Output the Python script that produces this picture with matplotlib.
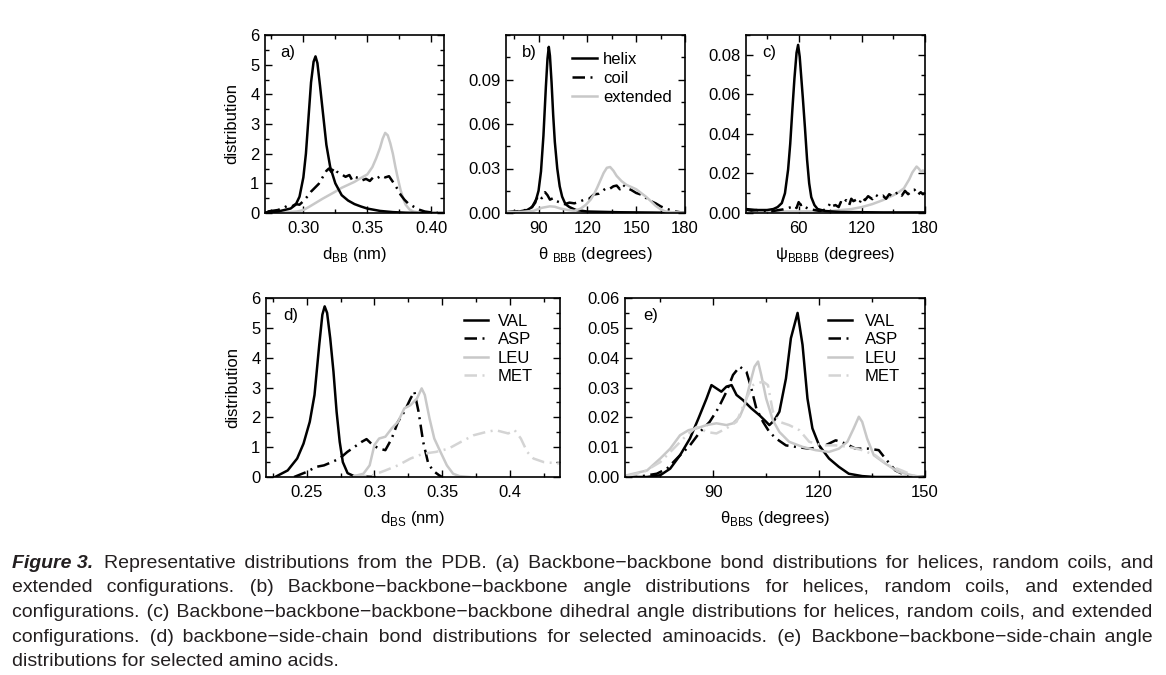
import matplotlib
matplotlib.use('Agg')
import matplotlib.pyplot as plt
from matplotlib.ticker import MultipleLocator, FormatStrFormatter, FuncFormatter, FixedLocator
from matplotlib.transforms import IdentityTransform

plt.rcParams['font.family'] = ['Liberation Sans', 'DejaVu Sans']
plt.rcParams['font.size'] = 12

# ---------------- data ----------------
# panel a: d_BB (nm)
a_helix_x = [0.270, 0.280, 0.285, 0.290, 0.294, 0.297, 0.300, 0.302, 0.304, 0.306, 0.308, 0.3095, 0.311,
             0.313, 0.315, 0.318, 0.321, 0.325, 0.330, 0.335, 0.340, 0.345, 0.350, 0.360, 0.370, 0.380, 0.390, 0.410]
a_helix_y = [0.02, 0.05, 0.10, 0.15, 0.28, 0.55, 1.20, 2.00, 3.20, 4.40, 5.10, 5.28, 5.05,
             4.30, 3.50, 2.30, 1.55, 1.00, 0.60, 0.42, 0.30, 0.22, 0.15, 0.07, 0.03, 0.01, 0.00, 0.00]
a_coil_x = [0.272, 0.280, 0.285, 0.288, 0.291, 0.294, 0.297, 0.300, 0.303, 0.306, 0.309, 0.312, 0.315, 0.318,
            0.320, 0.322, 0.324, 0.326, 0.328, 0.330, 0.333, 0.336, 0.338, 0.340, 0.343, 0.346, 0.349, 0.352,
            0.355, 0.358, 0.361, 0.364, 0.367, 0.370, 0.373, 0.376, 0.379, 0.382, 0.386, 0.390, 0.395, 0.400, 0.405]
a_coil_y = [0.05, 0.10, 0.18, 0.26, 0.22, 0.30, 0.28, 0.40, 0.55, 0.72, 0.85, 0.98, 1.20, 1.42,
            1.50, 1.38, 1.52, 1.40, 1.35, 1.30, 1.22, 1.28, 1.12, 1.22, 1.18, 1.10, 1.15, 1.08,
            1.22, 1.18, 1.26, 1.20, 1.24, 1.05, 0.85, 0.62, 0.45, 0.32, 0.22, 0.12, 0.05, 0.02, 0.01]
a_ext_x = [0.270, 0.285, 0.295, 0.300, 0.305, 0.310, 0.315, 0.320, 0.325, 0.330, 0.335, 0.340, 0.345, 0.350,
           0.354, 0.357, 0.360, 0.362, 0.364, 0.366, 0.368, 0.370, 0.372, 0.374, 0.376, 0.378, 0.380, 0.383,
           0.386, 0.390, 0.400, 0.410]
a_ext_y = [0.00, 0.02, 0.05, 0.10, 0.22, 0.35, 0.48, 0.60, 0.72, 0.85, 0.95, 1.05, 1.18, 1.30,
           1.55, 1.85, 2.20, 2.50, 2.70, 2.62, 2.35, 2.00, 1.55, 1.15, 0.78, 0.50, 0.28, 0.12,
           0.05, 0.02, 0.00, 0.00]

# panel b: theta_BBB (degrees)
b_helix_x = [70, 78, 83, 86, 88, 90, 91.5, 93, 94.5, 95.5, 96.3, 97, 98, 99, 100, 101.5, 103, 104.5,
             106.5, 109, 113, 120, 140, 160, 180]
b_helix_y = [0.0005, 0.001, 0.002, 0.004, 0.007, 0.015, 0.028, 0.052, 0.085, 0.104, 0.112, 0.106, 0.088,
             0.066, 0.048, 0.030, 0.018, 0.011, 0.006, 0.004, 0.002, 0.001, 0.0005, 0.0003, 0.0]
b_coil_x = [70, 76, 82, 86, 88, 90, 92, 94, 95.5, 97, 99, 101, 103.5, 106, 109, 112, 115, 118, 121, 124,
            127, 130, 132, 134, 136, 138, 140, 142, 144, 147, 150, 154, 158, 162, 165, 168, 171, 174, 177, 180]
b_coil_y = [0.0005, 0.001, 0.002, 0.004, 0.008, 0.012, 0.010, 0.014, 0.012, 0.009, 0.010, 0.008, 0.007,
            0.006, 0.007, 0.0065, 0.0075, 0.009, 0.0095, 0.0125, 0.013, 0.0155, 0.017, 0.0165, 0.018,
            0.0185, 0.016, 0.019, 0.017, 0.0155, 0.0135, 0.012, 0.0085, 0.0065, 0.0045, 0.003, 0.002,
            0.001, 0.0005, 0.0003]
b_ext_x = [70, 80, 87, 92, 97, 100, 103.5, 108, 112, 116, 119, 122, 124, 126, 128, 130, 132, 134, 136,
           138, 141, 144, 147, 150, 153, 156, 159, 162, 165, 168, 172, 180]
b_ext_y = [0.0005, 0.0008, 0.0015, 0.0035, 0.0045, 0.0042, 0.003, 0.002, 0.0015, 0.003, 0.0055, 0.009,
           0.0125, 0.017, 0.022, 0.027, 0.0305, 0.031, 0.0285, 0.025, 0.0215, 0.019, 0.0175, 0.016, 0.0135,
           0.011, 0.008, 0.0048, 0.0025, 0.001, 0.0005, 0.0003]

# panel c: psi_BBBB (degrees)
c_helix_x = [10, 20, 30, 36, 40, 44, 47, 50, 52, 54, 56, 58, 59.5, 61, 62, 64, 66, 68, 70, 72, 75, 78, 85,
             100, 140, 180]
c_helix_y = [0.002, 0.0015, 0.0015, 0.002, 0.003, 0.005, 0.010, 0.022, 0.035, 0.052, 0.068, 0.081, 0.085,
             0.079, 0.072, 0.058, 0.043, 0.027, 0.015, 0.008, 0.004, 0.002, 0.001, 0.0005, 0.0003, 0.0003]
c_coil_x = [10, 15, 20, 25, 30, 35, 40, 45, 50, 53, 56, 58, 60, 62, 64, 66, 70, 75, 80, 84, 88, 90, 92, 95,
            98, 100, 102, 105, 108, 110, 112, 115, 118, 120, 123, 126, 130, 133, 136, 140, 143, 146, 149,
            152, 155, 158, 161, 164, 167, 170, 173, 176, 178, 180]
c_coil_y = [0.0018, 0.0012, 0.0015, 0.001, 0.0012, 0.0009, 0.0014, 0.0018, 0.0025, 0.003, 0.0035, 0.0025,
            0.0055, 0.004, 0.0045, 0.003, 0.002, 0.0015, 0.001, 0.0015, 0.003, 0.005, 0.0035, 0.004, 0.003,
            0.0055, 0.0045, 0.0065, 0.004, 0.0072, 0.006, 0.0068, 0.0052, 0.0078, 0.0065, 0.0085, 0.007,
            0.0092, 0.0082, 0.0088, 0.0072, 0.0095, 0.0085, 0.0098, 0.0105, 0.0088, 0.0112, 0.0095, 0.0108,
            0.0118, 0.0092, 0.0105, 0.0095, 0.0102]
c_ext_x = [10, 40, 70, 80, 90, 100, 110, 120, 130, 140, 145, 150, 155, 160, 165, 168, 170, 172, 174, 176,
           178, 180]
c_ext_y = [0.0008, 0.0008, 0.0008, 0.0008, 0.001, 0.0015, 0.002, 0.003, 0.0045, 0.0065, 0.0078, 0.009,
           0.0105, 0.0125, 0.017, 0.0205, 0.022, 0.0235, 0.0225, 0.021, 0.0215, 0.021]

# panel d: d_BS (nm)
d_val_x = [0.2267, 0.236, 0.243, 0.2477, 0.2523, 0.2558, 0.2593, 0.2616, 0.2633, 0.2651, 0.2674, 0.2698,
           0.2721, 0.2744, 0.2767, 0.2802, 0.2849, 0.300]
d_val_y = [0.0, 0.22, 0.62, 1.12, 1.85, 2.75, 4.43, 5.44, 5.72, 5.50, 4.65, 3.53, 2.19, 1.18, 0.50, 0.13,
           0.03, 0.0]
d_asp_x = [0.2407, 0.250, 0.257, 0.2628, 0.2686, 0.2744, 0.280, 0.285, 0.2907, 0.2942, 0.2988, 0.3035,
           0.3081, 0.3128, 0.3174, 0.3221, 0.3267, 0.3295, 0.3326, 0.336, 0.3395, 0.343, 0.3477, 0.350]
d_asp_y = [0.0, 0.17, 0.34, 0.39, 0.50, 0.62, 0.84, 1.00, 1.18, 1.27, 1.07, 0.95, 0.90, 1.29, 1.85, 2.19,
           2.63, 2.86, 2.19, 1.18, 0.50, 0.22, 0.06, 0.0]
d_leu_x = [0.285, 0.2919, 0.2965, 0.300, 0.3035, 0.3081, 0.3128, 0.3174, 0.3221, 0.3267, 0.3314, 0.3349,
           0.3372, 0.3407, 0.3442, 0.3488, 0.3535, 0.3581, 0.3628, 0.370]
d_leu_y = [0.03, 0.11, 0.39, 1.07, 1.29, 1.35, 1.63, 1.85, 2.30, 2.41, 2.63, 2.97, 2.75, 1.96, 1.29, 0.84,
           0.39, 0.11, 0.03, 0.0]
d_met_x = [0.285, 0.2988, 0.3081, 0.3174, 0.3267, 0.336, 0.3453, 0.3547, 0.364, 0.3733, 0.3826, 0.3895,
           0.3988, 0.4035, 0.4081, 0.4128, 0.4174, 0.425, 0.437]
d_met_y = [0.0, 0.06, 0.22, 0.39, 0.62, 0.78, 0.84, 0.95, 1.18, 1.40, 1.51, 1.57, 1.46, 1.57, 1.29, 0.84,
           0.62, 0.50, 0.45]

# panel e: theta_BBS (degrees)
e_val_x = [65, 71.25, 75, 77.8, 80.6, 83.4, 85.8, 88.1, 89.5, 90.9, 92.3, 93.75, 95.2, 96.6, 98.4, 100.8,
           103.1, 105, 105.9, 107.3, 108.75, 110.6, 112, 113.9, 115.3, 116.7, 118.1, 120, 122.8, 125.6,
           128.4, 132.2, 135.9, 150]
e_val_y = [0.0, 0.0, 0.0006, 0.0028, 0.0073, 0.0129, 0.0196, 0.0263, 0.0308, 0.0297, 0.0286, 0.0303,
           0.0308, 0.0275, 0.0258, 0.0230, 0.0207, 0.0185, 0.0174, 0.0190, 0.0219, 0.0330, 0.0465, 0.0550,
           0.0443, 0.0263, 0.0163, 0.0106, 0.0062, 0.0034, 0.0011, 0.0003, 0.0, 0.0]
e_asp_x = [65, 68.4, 74, 76.9, 80.6, 83.4, 86.25, 89, 91.4, 93.75, 95.6, 97.5, 99.4, 100.8, 102.2, 104.1,
           105.9, 107.8, 110.6, 113.4, 117.2, 120.9, 124.7, 127.5, 130.3, 134, 136.9, 138.75, 141.6, 144.4,
           148.1, 150]
e_asp_y = [0.0, 0.0, 0.0011, 0.0028, 0.0073, 0.0106, 0.0151, 0.0185, 0.0230, 0.0286, 0.0342, 0.0370,
           0.0353, 0.0297, 0.0230, 0.0185, 0.0151, 0.0129, 0.0106, 0.0101, 0.0095, 0.0101, 0.0123, 0.0112,
           0.0095, 0.0095, 0.0090, 0.0062, 0.0022, 0.0006, 0.0, 0.0]
e_leu_x = [65.6, 71.25, 75, 77.8, 80.6, 83, 85.3, 88.1, 90.9, 93.75, 95.6, 97.5, 98.9, 100.3, 101.7, 102.7,
           103.6, 105, 106.9, 108.75, 111.5, 115.3, 119, 122.8, 125.6, 128, 129.8, 131.25, 132.2, 133.6,
           135.5, 138.75, 142.5, 146.25, 149]
e_leu_y = [0.0006, 0.0022, 0.0062, 0.0095, 0.0140, 0.0157, 0.0163, 0.0174, 0.0180, 0.0174, 0.0180, 0.0202,
           0.0241, 0.0308, 0.0370, 0.0387, 0.0342, 0.0263, 0.0190, 0.0151, 0.0118, 0.0101, 0.0090, 0.0084,
           0.0095, 0.0118, 0.0163, 0.0202, 0.0185, 0.0129, 0.0073, 0.0045, 0.0017, 0.0006, 0.0]
e_met_x = [65.6, 70.3, 75, 78.75, 82.5, 85.3, 88.1, 90.9, 93.75, 96.6, 99.4, 101.25, 104.1, 105.5, 106.9,
           108.75, 111.5, 114.4, 117.2, 120.9, 124.7, 128.4, 132.2, 135.9, 139.7, 143.4, 147.2]
e_met_y = [0.0003, 0.0017, 0.0050, 0.0095, 0.0140, 0.0168, 0.0151, 0.0146, 0.0163, 0.0185, 0.0263, 0.0308,
           0.0320, 0.0308, 0.0219, 0.0185, 0.0174, 0.0157, 0.0118, 0.0106, 0.0106, 0.0101, 0.0090, 0.0073,
           0.0039, 0.0022, 0.0003]

caption_head = "Figure 3."
caption_lines = [
    "Representative distributions from the PDB. (a) Backbone\u2212backbone bond distributions for helices, random coils, and",
    "extended configurations. (b) Backbone\u2212backbone\u2212backbone angle distributions for helices, random coils, and extended",
    "configurations. (c) Backbone\u2212backbone\u2212backbone\u2212backbone dihedral angle distributions for helices, random coils, and extended",
    "configurations. (d) backbone\u2212side-chain bond distributions for selected aminoacids. (e) Backbone\u2212backbone\u2212side-chain angle",
    "distributions for selected amino acids.",
]

# ---------------- styles ----------------
BLACK = '#000000'
GRAY = '#c8c8c8'
GRAY2 = '#d4d4d4'
LW = 1.8
DASHDOT = (0, (5.0, 2.2, 0.8, 2.2))

W, H = 1166, 675
fig = plt.figure(figsize=(W / 100, H / 100), dpi=100)


def px_axes(x0, y0, x1, y1):
    return fig.add_axes([x0 / W, 1 - y1 / H, (x1 - x0) / W, (y1 - y0) / H])


def style(ax, xmaj, xmin, ymaj, ymin):
    ax.xaxis.set_major_locator(xmaj if not isinstance(xmaj, (int, float)) else MultipleLocator(xmaj))
    ax.xaxis.set_minor_locator(MultipleLocator(xmin))
    ax.yaxis.set_major_locator(ymaj if not isinstance(ymaj, (int, float)) else MultipleLocator(ymaj))
    ax.yaxis.set_minor_locator(MultipleLocator(ymin))
    ax.tick_params(which='both', direction='in', top=True, right=True, width=1.0, labelsize=12)
    ax.tick_params(which='major', length=5.0)
    ax.tick_params(which='minor', length=3.0)
    ax.tick_params(axis='x', which='both', pad=6)
    ax.tick_params(axis='y', which='both', pad=4)
    for s in ax.spines.values():
        s.set_linewidth(1.2)


def legend(ax, dx, dy, spacing, textpad):
    ax.legend(loc='upper right', bbox_to_anchor=(1 - dx, 1 - dy), frameon=False, fontsize=12,
              handlelength=1.45, handletextpad=textpad, labelspacing=spacing,
              borderaxespad=0.0, borderpad=0.0)


gfmt = FuncFormatter(lambda v, p: ('%g' % round(v, 4)))

# panel a
ax = px_axes(265, 35, 444, 213)
ax.plot(a_ext_x, a_ext_y, color=GRAY, lw=LW)
ax.plot(a_coil_x, a_coil_y, color=BLACK, lw=LW, ls=DASHDOT)
ax.plot(a_helix_x, a_helix_y, color=BLACK, lw=LW)
ax.set_xlim(0.27, 0.41)
ax.set_ylim(0, 6)
style(ax, 0.05, 0.025, 1, 0.5)
ax.xaxis.set_major_formatter(FormatStrFormatter('%.2f'))
ax.set_ylabel('distribution', fontsize=12, labelpad=8)
ax.set_xlabel('d$_\\mathregular{BB}$ (nm)', fontsize=12, labelpad=6)
ax.text(0.085, 0.9, 'a)', transform=ax.transAxes, fontsize=12, va='center')

# panel b
ax = px_axes(506, 35, 685, 213)
ax.plot(b_helix_x, b_helix_y, color=BLACK, lw=LW, label='helix')
ax.plot(b_coil_x, b_coil_y, color=BLACK, lw=LW, ls=DASHDOT, label='coil')
ax.plot(b_ext_x, b_ext_y, color=GRAY, lw=LW, label='extended')
ax.set_xlim(70, 180)
ax.set_ylim(0, 0.12)
style(ax, 30, 15, FixedLocator([0, 0.03, 0.06, 0.09]), 0.015)
ax.yaxis.set_major_formatter(FormatStrFormatter('%.2f'))
ax.set_xlabel('θ $_\\mathregular{BBB}$ (degrees)', fontsize=12, labelpad=6)
ax.text(0.09, 0.9, 'b)', transform=ax.transAxes, fontsize=12, va='center')
legend(ax, 0.073, 0.093, 0.25, 0.4)

# panel c
ax = px_axes(746, 35, 925, 213)
ax.plot(c_ext_x, c_ext_y, color=GRAY, lw=LW)
ax.plot(c_coil_x, c_coil_y, color=BLACK, lw=LW, ls=DASHDOT)
ax.plot(c_helix_x, c_helix_y, color=BLACK, lw=LW)
ax.set_xlim(10, 180)
ax.set_ylim(0, 0.09)
style(ax, 60, 30, 0.02, 0.01)
ax.yaxis.set_major_formatter(FormatStrFormatter('%.2f'))
ax.set_xlabel('ψ$_\\mathregular{BBBB}$ (degrees)', fontsize=12, labelpad=6)
ax.text(0.09, 0.9, 'c)', transform=ax.transAxes, fontsize=12, va='center')

# panel d
ax = px_axes(266, 298, 560, 477)
ax.plot(d_val_x, d_val_y, color=BLACK, lw=LW, label='VAL')
ax.plot(d_asp_x, d_asp_y, color=BLACK, lw=LW, ls=DASHDOT, label='ASP')
ax.plot(d_leu_x, d_leu_y, color=GRAY, lw=LW, label='LEU')
ax.plot(d_met_x, d_met_y, color=GRAY2, lw=LW, ls=DASHDOT, label='MET')
ax.set_xlim(0.22, 0.437)
ax.set_ylim(0, 6)
style(ax, 0.05, 0.025, 1, 0.5)
ax.xaxis.set_major_formatter(gfmt)
ax.set_ylabel('distribution', fontsize=12, labelpad=8)
ax.set_xlabel('d$_\\mathregular{BS}$ (nm)', fontsize=12, labelpad=6)
ax.text(0.06, 0.9, 'd)', transform=ax.transAxes, fontsize=12, va='center')
legend(ax, 0.092, 0.087, 0.21, 0.6)

# panel e
ax = px_axes(625, 298, 925, 477)
ax.plot(e_val_x, e_val_y, color=BLACK, lw=LW, label='VAL')
ax.plot(e_asp_x, e_asp_y, color=BLACK, lw=LW, ls=DASHDOT, label='ASP')
ax.plot(e_leu_x, e_leu_y, color=GRAY, lw=LW, label='LEU')
ax.plot(e_met_x, e_met_y, color=GRAY2, lw=LW, ls=DASHDOT, label='MET')
ax.set_xlim(65, 150)
ax.set_ylim(0, 0.06)
style(ax, 30, 15, 0.01, 0.005)
ax.yaxis.set_major_formatter(FormatStrFormatter('%.2f'))
ax.set_xlabel('θ$_\\mathregular{BBS}$ (degrees)', fontsize=12, labelpad=6)
ax.text(0.06, 0.9, 'e)', transform=ax.transAxes, fontsize=12, va='center')
legend(ax, 0.083, 0.087, 0.21, 0.75)

# ---------------- caption (justified, one text per line) ----------------
CAP_FS = 14
CAP_COLOR = '#231f20'
X0, X1 = 12, 1153
BASE0, DY = 568, 24.5
renderer = fig.canvas.get_renderer()
ident = IdentityTransform()


def measure(s, **kw):
    t = fig.text(0, 0, s, fontsize=CAP_FS, transform=ident, **kw)
    w = t.get_window_extent(renderer).width
    t.remove()
    return w


SP = measure('a a') - measure('aa')
HS = measure('a\u200aa') - measure('aa')
if HS < 0.3 or HS > SP:
    HS = None


def justify(words, target):
    natural = measure(' '.join(words))
    g = len(words) - 1
    extra = max(0.0, (target - natural) / g) if g > 0 else 0.0
    out = words[0]
    cum = 0.0
    for k in range(1, len(words)):
        want = k * extra - cum
        n = int(want // SP) if want > 0 else 0
        rem = want - n * SP
        m = int(round(rem / HS)) if HS else 0
        cum += n * SP + (m * HS if HS else 0)
        out += ' ' * (1 + n) + '\u200a' * m + words[k]
    return out


head_w = measure(caption_head, fontweight='bold', fontstyle='italic')
for i, line in enumerate(caption_lines):
    y = H - (BASE0 + i * DY)
    x_start = X0
    if i == 0:
        fig.text(X0, y, caption_head, fontsize=CAP_FS, color=CAP_COLOR, transform=ident,
                 fontweight='bold', fontstyle='italic', va='baseline', ha='left')
        x_start = X0 + head_w + 2 * SP
    words = line.split()
    if i < len(caption_lines) - 1:
        s = justify(words, X1 - x_start)
    else:
        s = line
    fig.text(x_start, y, s, fontsize=CAP_FS, color=CAP_COLOR, transform=ident,
             va='baseline', ha='left')

fig.savefig('out.png', dpi=100)
